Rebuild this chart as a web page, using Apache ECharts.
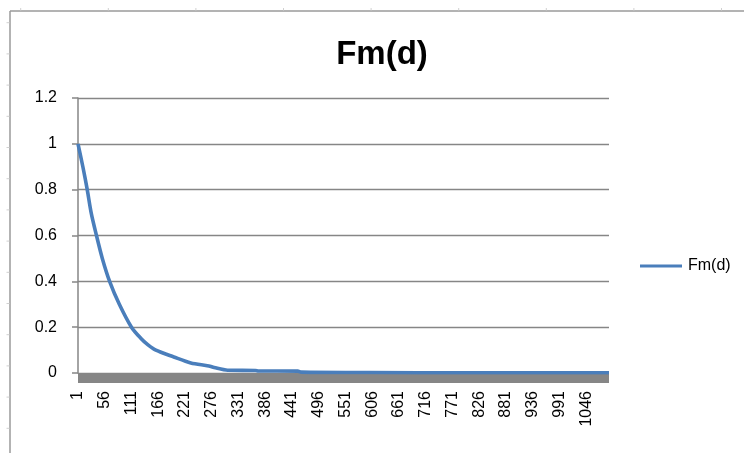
<!DOCTYPE html>
<html>
<head>
<meta charset="utf-8">
<script src="https://cdn.jsdelivr.net/npm/echarts@6/dist/echarts.min.js"></script>
<style>
  html, body { margin: 0; padding: 0; background: #ffffff; }
  #chart { width: 744px; height: 453px; }
</style>
</head>
<body>
<div id="chart"></div>
<script>
// ---- data ----
const chartTitle = 'Fm(d)';
const seriesName = 'Fm(d)';
// d (category number) at which the curve was read
const dIndex = [1, 11, 20, 28, 39, 51, 66, 86, 111, 130, 145, 160, 198, 233, 270, 281, 309, 366, 372, 453, 460, 600, 800, 1093];
// Fm(d) value read at each of those d
const fmValues = [1.0, 0.9, 0.8, 0.7, 0.6, 0.5, 0.4, 0.3, 0.2, 0.152, 0.123, 0.101, 0.07, 0.044, 0.031, 0.024, 0.012, 0.011, 0.009, 0.008, 0.004, 0.002, 0.001, 0.001];
// x tick labels shown (every 55th category)
const xTickLabels = ['1', '56', '111', '166', '221', '276', '331', '386', '441', '496', '551', '606', '661', '716', '771', '826', '881', '936', '991', '1046'];
const xTickStep = 55;
const categoryCount = 1093;
const yTicks = [0, 0.2, 0.4, 0.6, 0.8, 1, 1.2];

const FONT = "'Liberation Sans', Arial, sans-serif";
const GRID_COLOR = '#868686';
const LINE_COLOR = '#4A7EBB';

const seriesData = dIndex.map((d, i) => [d - 1, fmValues[i]]);

// decorative sheet border with faint cell ticks
const deco = [];
deco.push({ type: 'line', shape: { x1: 10, y1: 11, x2: 744, y2: 11 }, style: { stroke: '#9a9a9a', lineWidth: 1.5 } });
deco.push({ type: 'line', shape: { x1: 10, y1: 11, x2: 10, y2: 453 }, style: { stroke: '#9a9a9a', lineWidth: 1.5 } });
for (let k = 0; k < 9; k++) {
  const x = 20.7 + 87.6 * k;
  deco.push({ type: 'line', shape: { x1: x, y1: 8, x2: x, y2: 10.5 }, style: { stroke: '#d0d0d0', lineWidth: 1 } });
}
for (let k = 0; k < 14; k++) {
  const y = 22.7 + 31.2 * k;
  deco.push({ type: 'line', shape: { x1: 6.5, y1: y, x2: 9.5, y2: y }, style: { stroke: '#d0d0d0', lineWidth: 1 } });
}

const chart = echarts.init(document.getElementById('chart'), null, { renderer: 'canvas' });
chart.setOption({
  backgroundColor: '#ffffff',
  animation: false,
  title: {
    text: chartTitle,
    left: 382,
    textAlign: 'center',
    top: 38,
    padding: 0,
    textStyle: { fontFamily: FONT, fontWeight: 'bold', fontSize: 33, color: '#000000' }
  },
  legend: {
    left: 640,
    top: 258,
    padding: 0,
    icon: 'rect',
    itemWidth: 42,
    itemHeight: 3,
    itemGap: 6,
    itemStyle: { color: LINE_COLOR },
    textStyle: { fontFamily: FONT, fontSize: 16, color: '#000000', padding: [0, 0, 0, 1] },
    data: [seriesName]
  },
  grid: { left: 78, top: 98, width: 531, height: 275, containLabel: false },
  xAxis: {
    type: 'value',
    min: 0,
    max: categoryCount - 1,
    interval: xTickStep,
    offset: 5,
    axisLine: { show: true, onZero: false, lineStyle: { color: GRID_COLOR, width: 9, cap: 'butt' } },
    axisTick: { show: false },
    splitLine: { show: false },
    axisLabel: {
      rotate: 90,
      margin: 13,
      showMaxLabel: false,
      fontFamily: FONT,
      fontSize: 16,
      color: '#000000',
      formatter: function (v) {
        if (v % xTickStep !== 0) return '';
        return xTickLabels[v / xTickStep] || '';
      }
    }
  },
  yAxis: {
    type: 'value',
    min: yTicks[0],
    max: yTicks[yTicks.length - 1],
    interval: 0.2,
    axisLine: { show: true, lineStyle: { color: GRID_COLOR, width: 1.5 } },
    axisTick: { show: true, length: 6, lineStyle: { color: GRID_COLOR, width: 1.5 } },
    splitLine: { show: true, lineStyle: { color: GRID_COLOR, width: 1.3 } },
    axisLabel: {
      margin: 21,
      fontFamily: FONT,
      fontSize: 16,
      color: '#000000',
      formatter: function (v) { return String(Math.round(v * 10) / 10); }
    }
  },
  series: [{
    name: seriesName,
    type: 'line',
    data: seriesData,
    symbol: 'none',
    smooth: 0.3,
    z: 5,
    lineStyle: { color: LINE_COLOR, width: 3.6 },
    itemStyle: { color: LINE_COLOR }
  }],
  graphic: deco
});
</script>
</body>
</html>
